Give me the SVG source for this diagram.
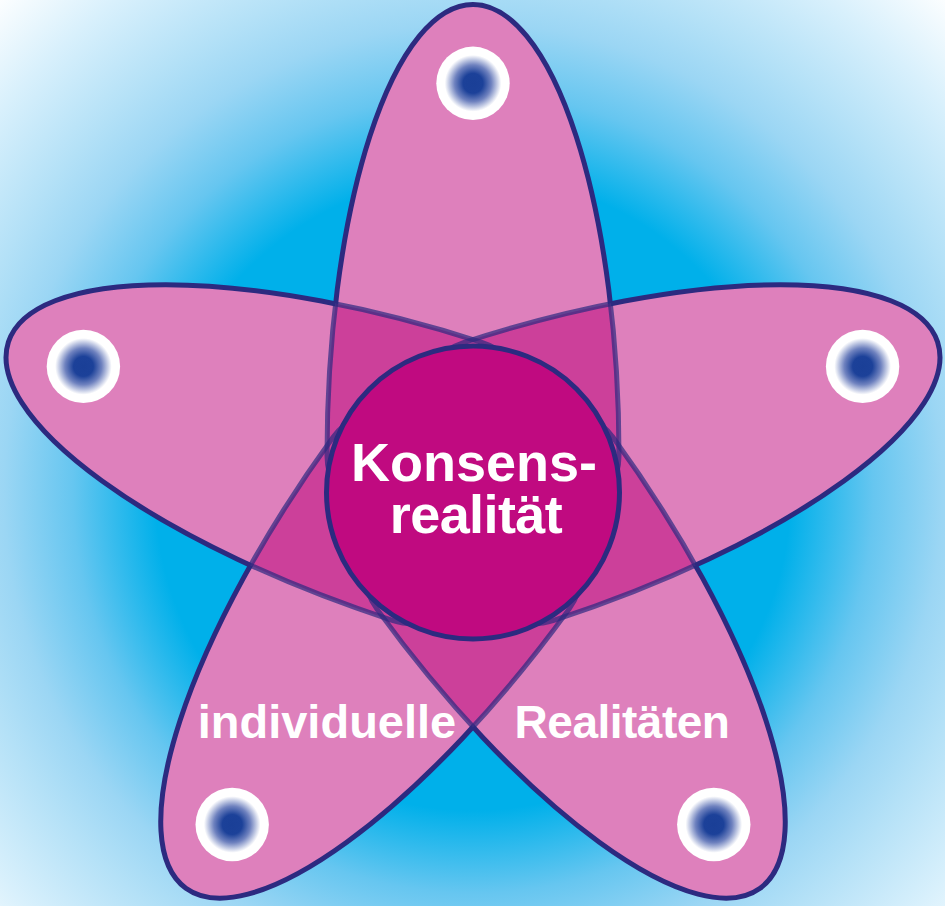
<svg xmlns="http://www.w3.org/2000/svg" xmlns:xlink="http://www.w3.org/1999/xlink" width="945" height="906" viewBox="0 0 945 906">
<style>
.fill{fill:#de80bc;stroke:none}
.ov{fill:#cc409a;stroke:none}
.inner{fill:none;stroke:#2c2a80;stroke-width:5;stroke-opacity:0.7}
.outer{fill:none;stroke:#2c2a80;stroke-width:5}
.dot{fill:url(#dotg)}
.lbl{font-family:"Liberation Sans",Arial,Helvetica,sans-serif;font-weight:bold;fill:#fff}
</style>
<defs>
<radialGradient id="bg" gradientUnits="userSpaceOnUse" cx="473" cy="493" r="690">
<stop offset="0" stop-color="#00b0ea"/>
<stop offset="0.46" stop-color="#00b0ea"/>
<stop offset="0.58" stop-color="#66c6f0"/>
<stop offset="0.68" stop-color="#9bd6f4"/>
<stop offset="0.76" stop-color="#b4e1f7"/>
<stop offset="0.88" stop-color="#d8f0fc"/>
<stop offset="1" stop-color="#ffffff"/>
</radialGradient>
<radialGradient id="dotg" cx="0.5" cy="0.5" r="0.5">
<stop offset="0" stop-color="#1a3f97"/>
<stop offset="0.27" stop-color="#1c4199"/>
<stop offset="0.5" stop-color="#6f82bf"/>
<stop offset="0.77" stop-color="#ffffff"/>
<stop offset="1" stop-color="#ffffff"/>
</radialGradient>
<path id="p0" d="M-146,-37.5 A146,451 0 0 1 146,-37.5 A146,100 0 0 1 -146,-37.5 Z" transform="translate(473 493) rotate(0)"/>
<path id="p1" d="M-146,-37.5 A146,451 0 0 1 146,-37.5 A146,100 0 0 1 -146,-37.5 Z" transform="translate(473 493) rotate(72)"/>
<path id="p2" d="M-146,-37.5 A146,451 0 0 1 146,-37.5 A146,100 0 0 1 -146,-37.5 Z" transform="translate(473 493) rotate(144)"/>
<path id="p3" d="M-146,-37.5 A146,451 0 0 1 146,-37.5 A146,100 0 0 1 -146,-37.5 Z" transform="translate(473 493) rotate(216)"/>
<path id="p4" d="M-146,-37.5 A146,451 0 0 1 146,-37.5 A146,100 0 0 1 -146,-37.5 Z" transform="translate(473 493) rotate(288)"/>
<clipPath id="c0"><use xlink:href="#p0"/></clipPath>
<clipPath id="c1"><use xlink:href="#p1"/></clipPath>
<clipPath id="c2"><use xlink:href="#p2"/></clipPath>
<clipPath id="c3"><use xlink:href="#p3"/></clipPath>
<clipPath id="o0"><use xlink:href="#p1"/><use xlink:href="#p2"/><use xlink:href="#p3"/><use xlink:href="#p4"/></clipPath>
<clipPath id="o1"><use xlink:href="#p0"/><use xlink:href="#p2"/><use xlink:href="#p3"/><use xlink:href="#p4"/></clipPath>
<clipPath id="o2"><use xlink:href="#p0"/><use xlink:href="#p1"/><use xlink:href="#p3"/><use xlink:href="#p4"/></clipPath>
<clipPath id="o3"><use xlink:href="#p0"/><use xlink:href="#p1"/><use xlink:href="#p2"/><use xlink:href="#p4"/></clipPath>
<clipPath id="o4"><use xlink:href="#p0"/><use xlink:href="#p1"/><use xlink:href="#p2"/><use xlink:href="#p3"/></clipPath>
<mask id="m0" maskUnits="userSpaceOnUse" x="0" y="0" width="945" height="906"><rect width="945" height="906" fill="#fff"/><g fill="#000"><use xlink:href="#p1"/><use xlink:href="#p2"/><use xlink:href="#p3"/><use xlink:href="#p4"/></g></mask>
<mask id="m1" maskUnits="userSpaceOnUse" x="0" y="0" width="945" height="906"><rect width="945" height="906" fill="#fff"/><g fill="#000"><use xlink:href="#p0"/><use xlink:href="#p2"/><use xlink:href="#p3"/><use xlink:href="#p4"/></g></mask>
<mask id="m2" maskUnits="userSpaceOnUse" x="0" y="0" width="945" height="906"><rect width="945" height="906" fill="#fff"/><g fill="#000"><use xlink:href="#p0"/><use xlink:href="#p1"/><use xlink:href="#p3"/><use xlink:href="#p4"/></g></mask>
<mask id="m3" maskUnits="userSpaceOnUse" x="0" y="0" width="945" height="906"><rect width="945" height="906" fill="#fff"/><g fill="#000"><use xlink:href="#p0"/><use xlink:href="#p1"/><use xlink:href="#p2"/><use xlink:href="#p4"/></g></mask>
<mask id="m4" maskUnits="userSpaceOnUse" x="0" y="0" width="945" height="906"><rect width="945" height="906" fill="#fff"/><g fill="#000"><use xlink:href="#p0"/><use xlink:href="#p1"/><use xlink:href="#p2"/><use xlink:href="#p3"/></g></mask>
</defs>
<rect id="background" width="945" height="906" fill="url(#bg)"/>
<g id="petal-fills">
<use xlink:href="#p0" class="fill"/>
<use xlink:href="#p1" class="fill"/>
<use xlink:href="#p2" class="fill"/>
<use xlink:href="#p3" class="fill"/>
<use xlink:href="#p4" class="fill"/>
</g>
<g id="petal-overlaps">
<use xlink:href="#p1" class="ov" clip-path="url(#c0)"/>
<use xlink:href="#p2" class="ov" clip-path="url(#c0)"/>
<use xlink:href="#p3" class="ov" clip-path="url(#c0)"/>
<use xlink:href="#p4" class="ov" clip-path="url(#c0)"/>
<use xlink:href="#p2" class="ov" clip-path="url(#c1)"/>
<use xlink:href="#p3" class="ov" clip-path="url(#c1)"/>
<use xlink:href="#p4" class="ov" clip-path="url(#c1)"/>
<use xlink:href="#p3" class="ov" clip-path="url(#c2)"/>
<use xlink:href="#p4" class="ov" clip-path="url(#c2)"/>
<use xlink:href="#p4" class="ov" clip-path="url(#c3)"/>
</g>
<g id="petal-inner-lines">
<use xlink:href="#p0" class="inner" clip-path="url(#o0)"/>
<use xlink:href="#p1" class="inner" clip-path="url(#o1)"/>
<use xlink:href="#p2" class="inner" clip-path="url(#o2)"/>
<use xlink:href="#p3" class="inner" clip-path="url(#o3)"/>
<use xlink:href="#p4" class="inner" clip-path="url(#o4)"/>
</g>
<g id="petal-outlines">
<use xlink:href="#p0" class="outer" mask="url(#m0)"/>
<use xlink:href="#p1" class="outer" mask="url(#m1)"/>
<use xlink:href="#p2" class="outer" mask="url(#m2)"/>
<use xlink:href="#p3" class="outer" mask="url(#m3)"/>
<use xlink:href="#p4" class="outer" mask="url(#m4)"/>
</g>
<g id="dot-top"><circle class="dot" cx="473" cy="83.3" r="36.7"/></g>
<g id="dot-right"><circle class="dot" cx="862.6" cy="366.4" r="36.7"/></g>
<g id="dot-bottom-right"><circle class="dot" cx="713.8" cy="824.5" r="36.7"/></g>
<g id="dot-bottom-left"><circle class="dot" cx="232.2" cy="824.5" r="36.7"/></g>
<g id="dot-left"><circle class="dot" cx="83.4" cy="366.4" r="36.7"/></g>
<g id="center">
<circle cx="473" cy="492.5" r="146.5" fill="#c00a80" stroke="#2c2a80" stroke-width="5"/>
<text class="lbl" x="474" y="481" font-size="54" text-anchor="middle">Konsens-</text>
<text class="lbl" x="476" y="533" font-size="54" text-anchor="middle" letter-spacing="-0.6">realität</text>
</g>
<g id="label-left"><text class="lbl" x="197.7" y="737.5" font-size="47">individuelle</text></g>
<g id="label-right"><text class="lbl" x="514.6" y="737.5" font-size="46" letter-spacing="-0.5">Realitäten</text></g>
</svg>
